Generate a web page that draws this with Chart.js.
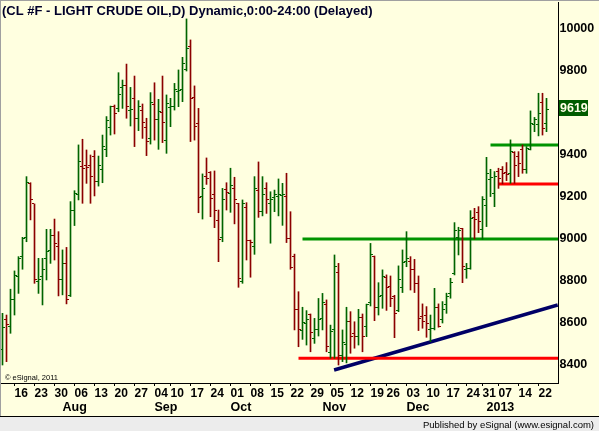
<!DOCTYPE html>
<html>
<head>
<meta charset="utf-8">
<script src="https://cdn.jsdelivr.net/npm/chart.js@4.4.0/dist/chart.umd.min.js"></script>
<style>
  html, body { margin: 0; padding: 0; background: #ffffe0; }
</style>
</head>
<body>
<canvas id="chartOil" width="599" height="431"></canvas>
<script>
// Daily OHLC, CL #F (price x 100), Jul 11 2012 .. Jan 24 2013
const opens = [
    8472, 8618, 8583, 8710, 8821, 8916, 9008, 9265, 9167, 8797,
    8821, 8908, 8945, 9016, 8964, 8805, 8884, 8729, 9138, 9210,
    9344, 9348, 9349, 9392, 9273, 9329, 9424, 9530, 9633, 9622,
    9722, 9733, 9610, 9670, 9575, 9614, 9532, 9479, 9641, 9567,
    9602, 9471, 9627, 9630, 9702, 9710, 9808, 9916, 9675, 9551,
    9202, 9297, 9316, 9214, 9086, 9008, 9237, 9218, 9241, 9167,
    8797, 9151, 8992, 8964, 9229, 9130, 9241, 9167, 9199, 9202,
    9205, 9202, 9003, 8916, 8665, 8562, 8600, 8640, 8527, 8570,
    8622, 8686, 8459, 8567, 8840, 8443, 8500, 8606, 8550, 8535,
    8627, 8583, 8697, 8916, 8675, 8729, 8818, 8776, 8725, 8660,
    8770, 8895, 8895, 8853, 8786, 8630, 8638, 8567, 8575, 8675,
    8615, 8686, 8742, 8837, 9005, 9051, 8853, 8860, 9102, 9125,
    9043, 9160, 9285, 9218, 9321, 9329, 9316, 9313, 9411, 9392,
    9427, 9329, 9427, 9543, 9545, 9650, 9551
];
const highs = [
    8646, 8638, 8761, 8848, 8916, 9008, 9297, 9268, 9167, 8908,
    8908, 9046, 9046, 9095, 9035, 8948, 8960, 9178, 9230, 9448,
    9475, 9424, 9400, 9421, 9395, 9495, 9583, 9633, 9638, 9792,
    9757, 9833, 9722, 9776, 9659, 9643, 9575, 9697, 9744, 9665,
    9776, 9686, 9670, 9741, 9805, 9865, 10048, 9948, 9729, 9622,
    9310, 9386, 9321, 9324, 9138, 9241, 9268, 9337, 9294, 9170,
    9186, 9173, 8995, 9297, 9367, 9297, 9268, 9225, 9233, 9286,
    9265, 9313, 9130, 8928, 8749, 8675, 8659, 8643, 8622, 8717,
    8741, 8710, 8590, 8924, 8884, 8567, 8675, 8654, 8606, 8665,
    8643, 8690, 8979, 8919, 8792, 8853, 8829, 8824, 8732, 8872,
    8948, 9035, 8916, 8903, 8824, 8691, 8678, 8638, 8765, 8691,
    8702, 8742, 8813, 9078, 9056, 9051, 8884, 9135, 9146, 9154,
    9202, 9389, 9332, 9321, 9337, 9345, 9364, 9472, 9416, 9416,
    9448, 9440, 9610, 9579, 9694, 9694, 9670
];
const lows = [
    8400, 8416, 8551, 8638, 8741, 8856, 8987, 9091, 8789, 8741,
    8686, 8805, 8884, 8900, 8729, 8734, 8691, 8726, 9064, 9186,
    9170, 9265, 9170, 9205, 9252, 9268, 9392, 9495, 9500, 9606,
    9622, 9575, 9538, 9440, 9516, 9479, 9397, 9452, 9471, 9427,
    9459, 9408, 9535, 9614, 9630, 9654, 9800, 9464, 9471, 9125,
    9095, 9260, 9106, 9054, 8892, 8987, 9138, 9127, 9072, 8770,
    8789, 8900, 8818, 8927, 9103, 9110, 9122, 8980, 9130, 9110,
    9065, 8983, 8856, 8567, 8487, 8522, 8495, 8463, 8503, 8538,
    8567, 8463, 8432, 8432, 8400, 8416, 8410, 8456, 8480, 8495,
    8463, 8535, 8681, 8611, 8638, 8670, 8660, 8678, 8530, 8654,
    8745, 8868, 8757, 8745, 8564, 8575, 8532, 8511, 8567, 8580,
    8600, 8646, 8718, 8829, 8924, 8792, 8813, 8856, 9000, 9030,
    8999, 9059, 9202, 9154, 9241, 9262, 9278, 9265, 9265, 9297,
    9313, 9313, 9424, 9511, 9491, 9495, 9511
];
const closes = [
    8580, 8591, 8710, 8827, 8908, 9003, 9268, 9186, 8805, 8808,
    8853, 8940, 9019, 8980, 8805, 8884, 8714, 9135, 9218, 9368,
    9337, 9341, 9297, 9273, 9348, 9440, 9563, 9630, 9598, 9689,
    9729, 9633, 9617, 9575, 9633, 9554, 9464, 9649, 9567, 9605,
    9554, 9646, 9633, 9713, 9706, 9836, 9908, 9668, 9535, 9199,
    9241, 9289, 9194, 9138, 8999, 9186, 9221, 9253, 9186, 8813,
    9167, 8992, 8983, 9241, 9130, 9210, 9189, 9186, 9210, 9213,
    9214, 9003, 8863, 8665, 8571, 8603, 8615, 8554, 8567, 8617,
    8697, 8487, 8559, 8871, 8443, 8506, 8605, 8535, 8535, 8627,
    8538, 8686, 8928, 8675, 8728, 8821, 8770, 8718, 8646, 8808,
    8888, 8908, 8853, 8786, 8622, 8605, 8599, 8575, 8675, 8583,
    8662, 8726, 8792, 9040, 9040, 8870, 8860, 9100, 9095, 9084,
    9186, 9313, 9295, 9300, 9290, 9313, 9308, 9416, 9352, 9360,
    9329, 9432, 9551, 9571, 9600, 9527, 9619
];

// Drawn support / resistance levels and trend line (bar index, price)
const resistanceFrom = [75, 122];
const resistanceLevel = [9000, 9448];
const supportFrom = [74, 124];
const supportLevel = [8432, 9262];
const trendX = [82.9, 138.8];
const trendY = [8376, 8686];

// Axis labels
const yTicks = [8400, 8600, 8800, 9000, 9200, 9400, 9600, 9800, 10000];
const monthLabels = ['Aug', 'Sep', 'Oct', 'Nov', 'Dec', '2013'];
const holidays = ['2012-09-03', '2012-11-22', '2012-12-25', '2013-01-01', '2013-01-21'];

// Trading days, one per bar
const days = [];
for (let d = new Date(Date.UTC(2012, 6, 11)); days.length < closes.length; d.setUTCDate(d.getUTCDate() + 1)) {
    const iso = d.toISOString().slice(0, 10);
    if (d.getUTCDay() === 0 || d.getUTCDay() === 6 || holidays.includes(iso)) continue;
    days.push(iso);
}
const dow = s => new Date(s + 'T00:00:00Z').getUTCDay();
const weekStarts = [];
const monthStarts = [];
days.forEach((s, i) => {
    if (i === 0) return;
    if (dow(s) < dow(days[i - 1])) weekStarts.push(i);
    if (s.slice(5, 7) !== days[i - 1].slice(5, 7)) monthStarts.push(i);
});

const xMin = -0.375;
const xMax = 138.875;
const lastIdx = closes.length - 1;

const UP = '#006400';
const DOWN = '#8b0000';
const FONT = 'Liberation Sans';

// little open / close tick images (open on the left, close on the right)
function tickMark(color, right) {
    const c = document.createElement('canvas');
    c.width = 5; c.height = 1;
    const g = c.getContext('2d');
    g.fillStyle = color;
    g.fillRect(right ? 3 : 0, 0, 2, 1);
    return c;
}
const openUp = tickMark(UP, false), openDown = tickMark(DOWN, false);
const closeUp = tickMark(UP, true), closeDown = tickMark(DOWN, true);
const isUp = i => closes[i] >= opens[i];

const decor = {
    id: 'decor',
    beforeDraw(chart) {
        const ctx = chart.ctx;
        ctx.save();
        ctx.fillStyle = '#ffffe0';
        ctx.fillRect(0, 0, chart.width, chart.height);
        ctx.restore();
    },
    beforeDatasetsDraw(chart) {
        chart.ctx.imageSmoothingEnabled = false;
    },
    afterDraw(chart) {
        const ctx = chart.ctx;
        const y = chart.scales.y;
        ctx.save();
        // bottom band
        ctx.fillStyle = '#ececec';
        ctx.fillRect(0, 417, chart.width, chart.height - 417);
        ctx.fillStyle = '#000';
        ctx.fillRect(0, 416, chart.width, 1);
        ctx.font = '9.5px "' + FONT + '"';
        ctx.textAlign = 'right';
        ctx.textBaseline = 'alphabetic';
        ctx.fillText('Published by eSignal (www.esignal.com)', 594, 427.5);
        // frame
        ctx.fillStyle = '#a0a0a0';
        ctx.fillRect(0, 0, chart.width, 1);
        ctx.fillRect(0, 0, 1, 416);
        // title
        ctx.textAlign = 'left';
        ctx.fillStyle = '#00002a';
        ctx.font = 'bold 13px "' + FONT + '"';
        ctx.fillText('(CL #F - LIGHT CRUDE OIL,D) Dynamic,0:00-24:00 (Delayed)', 2, 15);
        ctx.fillStyle = '#000';
        ctx.font = '7.5px "' + FONT + '"';
        ctx.fillText('\u00a9 eSignal, 2011', 5, 380);
        // last price box
        const py = Math.round(y.getPixelForValue(closes[lastIdx]));
        ctx.fillStyle = '#005c00';
        ctx.fillRect(559, py - 9, 29, 16);
        ctx.fillStyle = '#ffffe8';
        ctx.font = 'bold 12.5px "' + FONT + '"';
        ctx.textBaseline = 'middle';
        ctx.fillText(String(closes[lastIdx]), 560, py - 0.5);
        ctx.restore();
    }
};

const levelLine = (from, value, color, width) => ({
    type: 'line',
    data: [{ x: from, y: value }, { x: xMax, y: value }],
    borderColor: color,
    borderWidth: width,
    pointRadius: 0,
    borderCapStyle: 'butt',
    order: 3
});

const ctxOil = document.getElementById('chartOil').getContext('2d');
new Chart(ctxOil, {
    type: 'bar',
    plugins: [decor],
    data: {
        datasets: [
            // high-low bars
            {
                type: 'bar',
                data: days.map((d, i) => ({ x: i, y: [lows[i], highs[i]] })),
                backgroundColor: days.map((d, i) => isUp(i) ? UP : DOWN),
                borderWidth: 0,
                barThickness: 1,
                order: 1
            },
            // open ticks
            {
                type: 'line',
                data: days.map((d, i) => ({ x: i, y: opens[i] })),
                showLine: false,
                pointRadius: 2,
                pointStyle: c => isUp(c.dataIndex) ? openUp : openDown,
                order: 0
            },
            // close ticks
            {
                type: 'line',
                data: days.map((d, i) => ({ x: i, y: closes[i] })),
                showLine: false,
                pointRadius: 2,
                pointStyle: c => isUp(c.dataIndex) ? closeUp : closeDown,
                order: 0
            },
            levelLine(resistanceFrom[0], resistanceLevel[0], '#009400', 3),
            levelLine(resistanceFrom[1], resistanceLevel[1], '#009400', 3),
            levelLine(supportFrom[0], supportLevel[0], '#ff0000', 3),
            levelLine(supportFrom[1], supportLevel[1], '#ff0000', 3),
            {
                type: 'line',
                data: trendX.map((x, i) => ({ x: x, y: trendY[i] })),
                borderColor: '#000066',
                borderWidth: 3.5,
                pointRadius: 0,
                borderCapStyle: 'butt',
                order: 3
            }
        ]
    },
    options: {
        responsive: false,
        animation: false,
        events: [],
        layout: { autoPadding: false, padding: { left: 1, top: 2, right: 0, bottom: 14 } },
        plugins: { legend: { display: false }, tooltip: { enabled: false }, title: { display: false } },
        scales: {
            x: {
                type: 'linear',
                position: 'bottom',
                weight: 0,
                min: xMin,
                max: xMax,
                offset: false,
                afterBuildTicks: s => { s.ticks = weekStarts.map(i => ({ value: i })); },
                afterFit: s => { s.height = 17; s.paddingLeft = 0; s.paddingRight = 0; },
                ticks: {
                    autoSkip: false,
                    maxRotation: 0,
                    align: 'start',
                    padding: 0,
                    color: '#000',
                    font: { family: FONT, size: 12, weight: 'bold' },
                    callback: v => days[v].slice(8, 10)
                },
                grid: { offset: false, drawOnChartArea: false, drawTicks: true, tickLength: 3, color: '#000' },
                border: { display: true, color: '#000', width: 1 }
            },
            xm: {
                type: 'linear',
                position: 'bottom',
                weight: 1,
                min: xMin,
                max: xMax,
                offset: false,
                afterBuildTicks: s => { s.ticks = monthStarts.map(i => ({ value: i })); },
                afterFit: s => { s.height = 17; s.paddingLeft = 0; s.paddingRight = 0; },
                ticks: {
                    autoSkip: false,
                    maxRotation: 0,
                    align: 'start',
                    padding: 0,
                    color: '#000',
                    font: { family: FONT, size: 12.5, weight: 'bold' },
                    callback: v => monthLabels[monthStarts.indexOf(v)]
                },
                grid: { display: false, drawTicks: false },
                border: { display: false }
            },
            y: {
                type: 'linear',
                position: 'right',
                min: 10000 - 354 / 0.21,
                max: 10000 + 27 / 0.21,
                afterBuildTicks: s => { s.ticks = yTicks.map(v => ({ value: v })); },
                afterFit: s => { s.width = 41; s.paddingTop = 0; s.paddingBottom = 0; },
                ticks: {
                    padding: 1.5,
                    color: '#000',
                    font: { family: FONT, size: 12.5, weight: 'bold' },
                    callback: v => String(v)
                },
                grid: { drawOnChartArea: false, drawTicks: false },
                border: { display: true, color: '#000', width: 1 }
            }
        }
    }
});
</script>
</body>
</html>
